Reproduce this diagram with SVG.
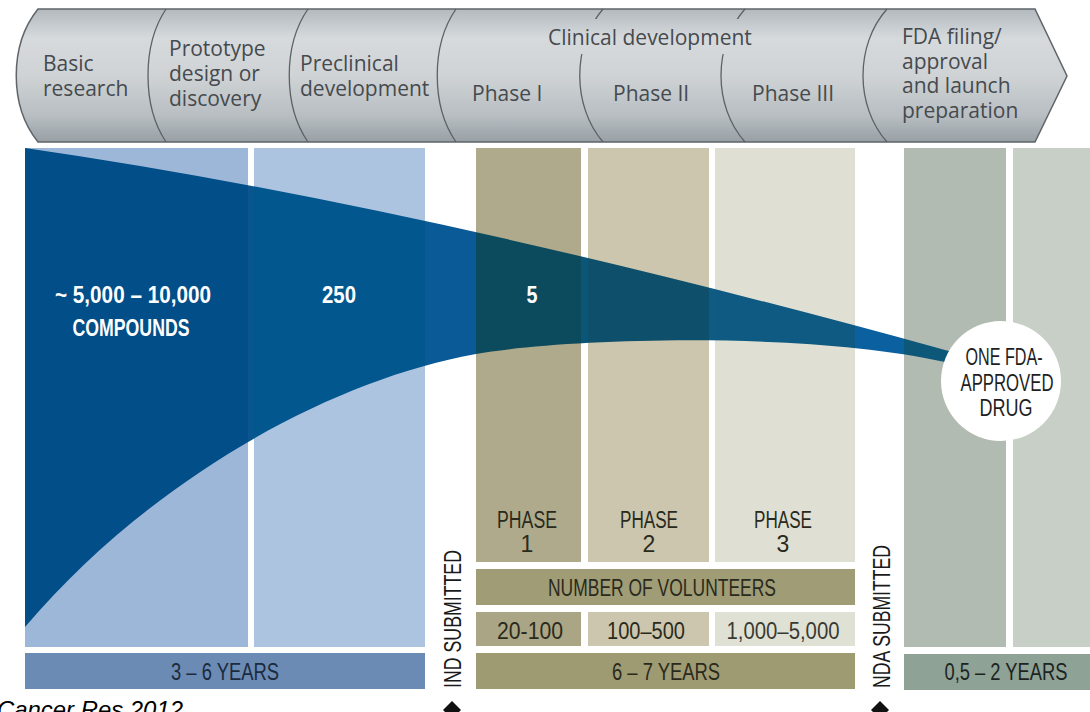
<svg xmlns="http://www.w3.org/2000/svg" width="1090" height="712" viewBox="0 0 1090 712">
  <defs>
    <style>
      .band { font-family: "Open Sans", "Noto Sans", sans-serif; font-size: 21px; fill: #464a4e; }
      .cond { font-family: "Liberation Sans", Arial, sans-serif; font-size: 23px; }
      .wht { fill: #ffffff; font-weight: bold; font-size: 24px; }
      .olive-t { fill: #2a2a1c; }
      .sep { fill: none; stroke: #5b6165; stroke-width: 1.3; }
    </style>
    <linearGradient id="bannerFill" x1="0" y1="0" x2="0" y2="1">
      <stop offset="0" stop-color="#b3b9be"/>
      <stop offset="0.22" stop-color="#d6dadd"/>
      <stop offset="0.5" stop-color="#cfd3d6"/>
      <stop offset="0.8" stop-color="#b8bec2"/>
      <stop offset="1" stop-color="#98a0a5"/>
    </linearGradient>
    <clipPath id="funnelClip">
      <path d="M25 148 Q420 205 945 350 L968 356 L968 366 L945 362 C800 330 560 339 476 354 C330 380 150 480 25 627 Z"/>
    </clipPath>
    <clipPath id="titleGap" clipPathUnits="userSpaceOnUse">
      <path clip-rule="evenodd" d="M0 0 H1090 V150 H0 Z M540 19 H770 V54 H540 Z"/>
    </clipPath>
  </defs>

  <rect width="1090" height="712" fill="#ffffff"/>

  <!-- stage banner -->
  <g id="stage-banner">
    <path d="M38 9 L1035 9 L1067 76 L1035 142 L38 142 C9 106 9 45 38 9 Z" fill="url(#bannerFill)" stroke="#5e6468" stroke-width="1.5"/>
    <path class="sep" d="M166 9 C142 45 142 106 166 142"/>
    <path class="sep" d="M308 9 C283 45 283 106 308 142"/>
    <path class="sep" d="M456 9 C431 45 431 106 456 142"/>
    <g clip-path="url(#titleGap)">
      <path class="sep" d="M603 9 C572 45 572 106 603 142"/>
      <path class="sep" d="M745 9 C713 45 713 106 745 142"/>
    </g>
    <path class="sep" d="M887 9 C855 45 855 106 887 142"/>
  </g>
  <g id="stage-basic-research">
    <text class="band" x="43" y="71">Basic</text>
    <text class="band" x="43" y="96">research</text>
  </g>
  <g id="stage-prototype">
    <text class="band" x="169" y="56">Prototype</text>
    <text class="band" x="169" y="81">design or</text>
    <text class="band" x="169" y="106">discovery</text>
  </g>
  <g id="stage-preclinical">
    <text class="band" x="300" y="71">Preclinical</text>
    <text class="band" x="300" y="96">development</text>
  </g>
  <g id="stage-clinical">
    <text class="band" x="548" y="45">Clinical development</text>
    <text class="band" x="472" y="101">Phase I</text>
    <text class="band" x="613" y="101">Phase II</text>
    <text class="band" x="752" y="101">Phase III</text>
  </g>
  <g id="stage-fda">
    <text class="band" x="902" y="44">FDA filing/</text>
    <text class="band" x="902" y="69">approval</text>
    <text class="band" x="902" y="93">and launch</text>
    <text class="band" x="902" y="118">preparation</text>
  </g>

  <!-- background columns -->
  <g id="discovery-columns">
    <rect x="25" y="148" width="223" height="499" fill="#9cb7d8"/>
    <rect x="254" y="148" width="171" height="499" fill="#adc4e0"/>
    <rect x="25" y="653" width="400" height="36" fill="#6b8bb4"/>
    <text class="cond" x="225" y="680" text-anchor="middle" textLength="108" lengthAdjust="spacingAndGlyphs" fill="#1c2a3e">3 – 6 YEARS</text>
  </g>

  <g id="clinical-columns">
    <rect x="476" y="148" width="105" height="414" fill="#aeaa8b"/>
    <rect x="588" y="148" width="121" height="414" fill="#cbc6ad"/>
    <rect x="715" y="148" width="140" height="414" fill="#dfe0d3"/>
    <text class="cond olive-t" x="527" y="528" text-anchor="middle" textLength="60" lengthAdjust="spacingAndGlyphs">PHASE</text>
    <text class="cond olive-t" x="527" y="552" text-anchor="middle">1</text>
    <text class="cond olive-t" x="649" y="528" text-anchor="middle" textLength="58" lengthAdjust="spacingAndGlyphs">PHASE</text>
    <text class="cond olive-t" x="649" y="552" text-anchor="middle">2</text>
    <text class="cond olive-t" x="783" y="528" text-anchor="middle" textLength="58" lengthAdjust="spacingAndGlyphs">PHASE</text>
    <text class="cond olive-t" x="783" y="552" text-anchor="middle">3</text>
  </g>

  <g id="volunteers">
    <rect x="476" y="569" width="379" height="36" fill="#a09c76"/>
    <text class="cond olive-t" x="662" y="596" text-anchor="middle" textLength="228" lengthAdjust="spacingAndGlyphs">NUMBER OF VOLUNTEERS</text>
    <rect x="476" y="612" width="105" height="34" fill="#aaa585"/>
    <rect x="588" y="612" width="121" height="34" fill="#cbc6ad"/>
    <rect x="715" y="612" width="140" height="34" fill="#e0e1d5"/>
    <text class="cond olive-t" x="530" y="639" text-anchor="middle" textLength="66" lengthAdjust="spacingAndGlyphs">20-100</text>
    <text class="cond olive-t" x="646" y="639" text-anchor="middle" textLength="78" lengthAdjust="spacingAndGlyphs">100–500</text>
    <text class="cond" x="783" y="639" text-anchor="middle" textLength="113" lengthAdjust="spacingAndGlyphs" fill="#3a3a32">1,000–5,000</text>
  </g>

  <g id="clinical-duration">
    <rect x="476" y="653" width="379" height="36" fill="#9e9a72"/>
    <text class="cond olive-t" x="666" y="680" text-anchor="middle" textLength="108" lengthAdjust="spacingAndGlyphs">6 – 7 YEARS</text>
  </g>

  <g id="approval-columns">
    <rect x="904" y="148" width="102" height="499" fill="#b2bbb1"/>
    <rect x="1013" y="148" width="77" height="499" fill="#c7cfc6"/>
    <rect x="904" y="654" width="186" height="36" fill="#8fa296"/>
    <text class="cond" x="1006" y="680" text-anchor="middle" textLength="123" lengthAdjust="spacingAndGlyphs" fill="#1d241f">0,5 – 2 YEARS</text>
  </g>

  <!-- compound attrition funnel -->
  <g id="funnel" clip-path="url(#funnelClip)">
    <rect x="0" y="140" width="248" height="500" fill="#014e88"/>
    <rect x="248" y="140" width="6" height="500" fill="#0a5590"/>
    <rect x="254" y="140" width="171" height="500" fill="#02578f"/>
    <rect x="425" y="140" width="51" height="500" fill="#0a5a98"/>
    <rect x="476" y="140" width="105" height="500" fill="#0c4b5e"/>
    <rect x="581" y="140" width="7" height="500" fill="#0b5576"/>
    <rect x="588" y="140" width="121" height="500" fill="#0e4f6b"/>
    <rect x="709" y="140" width="6" height="500" fill="#0f5b84"/>
    <rect x="715" y="140" width="140" height="500" fill="#0e5a82"/>
    <rect x="855" y="140" width="49" height="500" fill="#0b60a0"/>
    <rect x="904" y="140" width="80" height="500" fill="#0d5878"/>
  </g>
  <g id="funnel-labels">
    <text class="cond wht" x="133" y="303" text-anchor="middle" textLength="156" lengthAdjust="spacingAndGlyphs">~ 5,000 – 10,000</text>
    <text class="cond wht" x="131" y="336" text-anchor="middle" textLength="117" lengthAdjust="spacingAndGlyphs">COMPOUNDS</text>
    <text class="cond wht" x="339" y="303" text-anchor="middle" textLength="34" lengthAdjust="spacingAndGlyphs">250</text>
    <text class="cond wht" x="532" y="303" text-anchor="middle" textLength="11" lengthAdjust="spacingAndGlyphs">5</text>
  </g>

  <g id="approved-drug">
    <circle cx="1001" cy="381" r="60" fill="#ffffff"/>
    <text class="cond" x="1004" y="365" text-anchor="middle" textLength="77" lengthAdjust="spacingAndGlyphs" font-size="24" fill="#1e1e1e">ONE FDA-</text>
    <text class="cond" x="1007" y="391" text-anchor="middle" textLength="93" lengthAdjust="spacingAndGlyphs" font-size="24" fill="#1e1e1e">APPROVED</text>
    <text class="cond" x="1006" y="416" text-anchor="middle" textLength="53" lengthAdjust="spacingAndGlyphs" font-size="24" fill="#1e1e1e">DRUG</text>
  </g>

  <!-- submission milestones -->
  <g id="ind-submitted">
    <text class="cond" transform="translate(461 688) rotate(-90)" textLength="138" lengthAdjust="spacingAndGlyphs" font-size="23" fill="#1a1a1a">IND SUBMITTED</text>
  </g>
  <g id="nda-submitted">
    <text class="cond" transform="translate(890 688) rotate(-90)" textLength="143" lengthAdjust="spacingAndGlyphs" font-size="23" fill="#1a1a1a">NDA SUBMITTED</text>
  </g>
  <g id="connectors">
    <path d="M452 701 L461 710 L452 719 L443 710 Z" fill="#111111"/>
    <path d="M880 701 L889 710 L880 719 L871 710 Z" fill="#111111"/>
  </g>

  <text x="-3" y="718" font-family="'Liberation Sans', Arial, sans-serif" font-style="italic" font-size="24" textLength="186" lengthAdjust="spacingAndGlyphs" fill="#000000">Cancer Res 2012</text>
</svg>
